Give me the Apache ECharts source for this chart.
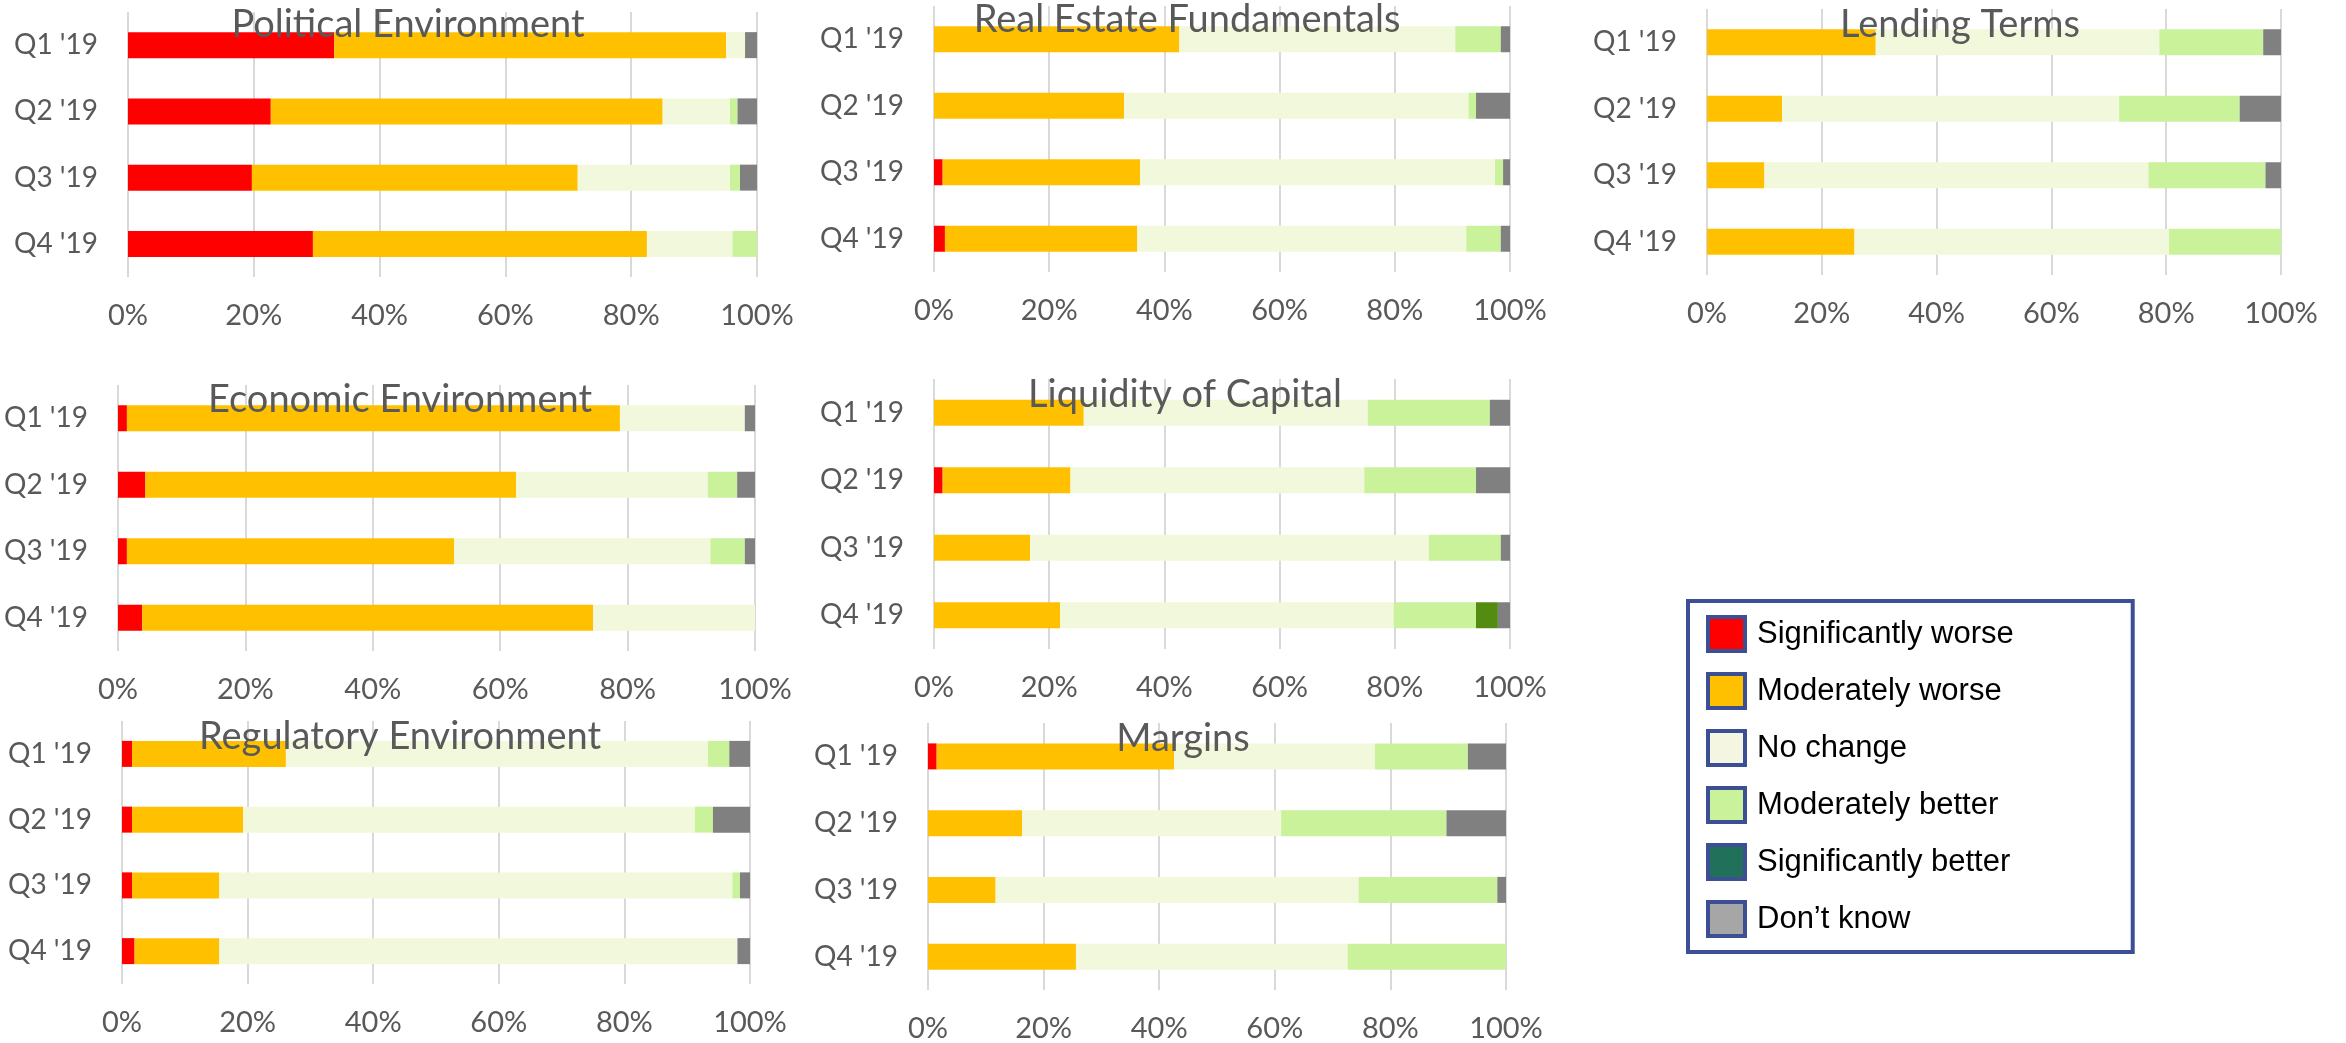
<!DOCTYPE html>
<html>
<head>
<meta charset="utf-8">
<title>Survey panels</title>
<script src="https://cdn.jsdelivr.net/npm/echarts@6/dist/echarts.min.js"></script>
<style>
  html, body { margin: 0; background: #fff; }
  #chart { width: 2346px; height: 1043px; }
</style>
</head>
<body>
<div id="chart"></div>
<script>
const quarters = ["Q1 '19", "Q2 '19", "Q3 '19", "Q4 '19"];
const answers = ['Significantly worse', 'Moderately worse', 'No change', 'Moderately better', 'Significantly better', 'Don’t know'];
const panelTitles = ['Political Environment', 'Real Estate Fundamentals', 'Lending Terms',
  'Economic Environment', 'Liquidity of Capital', 'Regulatory Environment', 'Margins'];

// one row per answer, one value per quarter (percent of responses)
const political = [
  [32.8, 22.7, 19.7, 29.4],
  [62.3, 62.3, 51.8, 53.1],
  [3.0, 10.7, 24.2, 13.6],
  [0, 1.2, 1.6, 3.9],
  [0, 0, 0, 0],
  [1.9, 3.1, 2.7, 0]
];
const realEstate = [
  [0, 0, 1.5, 1.9],
  [42.6, 33.0, 34.3, 33.4],
  [47.9, 59.8, 61.6, 57.1],
  [7.9, 1.3, 1.4, 6.0],
  [0, 0, 0, 0],
  [1.6, 5.9, 1.2, 1.6]
];
const lending = [
  [0, 0, 0, 0],
  [29.4, 13.1, 10.0, 25.7],
  [49.4, 58.7, 66.9, 54.8],
  [18.1, 21.0, 20.4, 19.5],
  [0, 0, 0, 0],
  [3.1, 7.2, 2.7, 0]
];
const economic = [
  [1.4, 4.3, 1.4, 3.8],
  [77.4, 58.2, 51.4, 70.8],
  [19.6, 30.1, 40.2, 25.4],
  [0, 4.6, 5.4, 0],
  [0, 0, 0, 0],
  [1.6, 2.8, 1.6, 0]
];
const liquidity = [
  [0, 1.5, 0, 0],
  [26.0, 22.2, 16.7, 21.9],
  [49.3, 51.0, 69.2, 57.9],
  [21.2, 19.4, 12.5, 14.3],
  [0, 0, 0, 3.8],
  [3.5, 5.9, 1.6, 2.1]
];
const regulatory = [
  [1.6, 1.6, 1.6, 2.0],
  [24.5, 17.7, 13.9, 13.5],
  [67.2, 71.9, 81.7, 82.5],
  [3.4, 2.9, 1.2, 0],
  [0, 0, 0, 0],
  [3.3, 5.9, 1.6, 2.0]
];
const margins = [
  [1.5, 0, 0, 0],
  [41.1, 16.3, 11.7, 25.6],
  [34.7, 44.8, 62.8, 47.0],
  [16.1, 28.6, 24.0, 27.4],
  [0, 0, 0, 0],
  [6.6, 10.3, 1.5, 0]
];
const panelData = [political, realEstate, lending, economic, liquidity, regulatory, margins];

const barColors = ['#FF0000', '#FFC000', '#F2F8DC', '#C9F29B', '#548C12', '#808080'];
const legendColors = ['#FF0000', '#FFC000', '#F4F6E2', '#C9F29B', '#217059', '#A6A6A6'];

// plot boxes of the seven panels, and where each title sits
const boxes = [
  { left: 128, top: 12, width: 629, height: 265, tx: 408, ty: 25 },
  { left: 934, top: 6, width: 576, height: 266, tx: 1187, ty: 20 },
  { left: 1707, top: 9, width: 574, height: 266, tx: 1960, ty: 25 },
  { left: 118, top: 385, width: 637, height: 266, tx: 400, ty: 400 },
  { left: 934, top: 379, width: 576, height: 270, tx: 1185, ty: 395 },
  { left: 122, top: 721, width: 628, height: 263, tx: 400, ty: 737 },
  { left: 928, top: 723, width: 578, height: 267, tx: 1183, ty: 739 }
];

const axisFont = 'Lato, "Open Sans", sans-serif';
const grey = '#595959';

const chart = echarts.init(document.getElementById('chart'));

const grid = [], xAxis = [], yAxis = [], series = [], graphic = [];

boxes.forEach(function (b, i) {
  grid.push({ left: b.left, top: b.top, width: b.width, height: b.height, containLabel: false });
  xAxis.push({
    type: 'value', gridIndex: i, min: 0, max: 100, interval: 20,
    axisLine: { show: false }, axisTick: { show: false },
    splitLine: { lineStyle: { color: '#D9D9D9', width: 2 } },
    axisLabel: { formatter: '{value}%', color: grey, fontSize: 29, fontFamily: axisFont, margin: 24 }
  });
  yAxis.push({
    type: 'category', gridIndex: i, data: quarters, inverse: true,
    axisLine: { show: false }, axisTick: { show: false },
    axisLabel: { color: grey, fontSize: 28, fontFamily: axisFont, margin: 30 }
  });
  answers.forEach(function (name, k) {
    series.push({
      name: name, type: 'bar', stack: 'panel' + i,
      xAxisIndex: i, yAxisIndex: i,
      barWidth: 26,
      itemStyle: { color: barColors[k] },
      data: panelData[i][k]
    });
  });
  graphic.push({
    type: 'text', x: b.tx, y: b.ty, z: 100,
    style: {
      text: panelTitles[i], fill: grey,
      font: '38px ' + axisFont,
      textAlign: 'center', textVerticalAlign: 'middle'
    }
  });
});

chart.setOption({
  animation: false,
  grid: grid,
  xAxis: xAxis,
  yAxis: yAxis,
  series: series,
  graphic: graphic,
  legend: {
    orient: 'vertical',
    left: 1688, top: 601,
    padding: [14, 119, 14, 18],
    borderColor: '#3D4F94', borderWidth: 4,
    itemWidth: 37, itemHeight: 34, itemGap: 19,
    icon: 'rect',
    selectedMode: false,
    itemStyle: { borderColor: '#3D4F94', borderWidth: 4 },
    textStyle: { color: '#000', fontSize: 31, fontFamily: '"Liberation Sans", Arial, sans-serif', padding: [0, 0, 0, 7] },
    data: answers.map(function (name, k) {
      return { name: name, itemStyle: { color: legendColors[k] } };
    })
  }
});
</script>
</body>
</html>
